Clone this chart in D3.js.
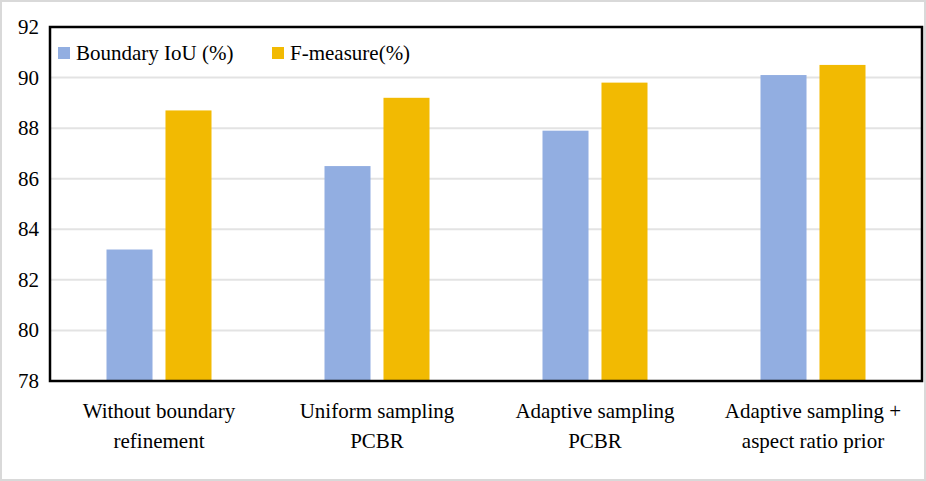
<!DOCTYPE html>
<html>
<head>
<meta charset="utf-8">
<script src="https://cdn.jsdelivr.net/npm/d3@7"></script>
<style>
body { margin: 0; background: #fff; }
</style>
</head>
<body>
<div id="chart"></div>
<script>
var categories = [
  ['Without boundary', 'refinement'],
  ['Uniform sampling', 'PCBR'],
  ['Adaptive sampling', 'PCBR'],
  ['Adaptive sampling +', 'aspect ratio prior']
]
var seriesNames = ['Boundary IoU (%)', 'F-measure(%)']
var boundaryIoU = [83.2, 86.5, 87.9, 90.1]
var fMeasure = [88.7, 89.2, 89.8, 90.5]
var yTicks = [78, 80, 82, 84, 86, 88, 90, 92]
var colors = ['#92aee1', '#f2ba02']

function drawChart() {
  var width = 926, height = 481
  var pLeft = 50, pRight = 922, pTop = 27, pBottom = 381
  var font = '"Liberation Serif", "Times New Roman", serif'

  var svg = d3.select('#chart').append('svg')
    .attr('width', width).attr('height', height)
    .style('font-family', font)

  svg.append('rect')
    .attr('x', 1).attr('y', 1).attr('width', width - 2).attr('height', height - 2)
    .style('fill', '#fff').style('stroke', '#d9d9d9').style('stroke-width', 2)

  var x = d3.scaleBand().domain(d3.range(categories.length)).range([pLeft, pRight])
  var x1 = d3.scaleBand().domain([0, 1]).range([0, 105]).paddingInner(0.22)
  var y = d3.scaleLinear().domain([78, 92]).range([pBottom, pTop])

  svg.append('g')
    .selectAll('line')
    .data(yTicks)
    .enter()
    .append('line')
    .attr('x1', pLeft).attr('x2', pRight)
    .attr('y1', d => y(d)).attr('y2', d => y(d))
    .style('stroke', '#e3e3e3').style('stroke-width', 2)

  svg.append('g')
    .selectAll('text')
    .data(yTicks)
    .enter()
    .append('text')
    .attr('x', 39).attr('y', d => y(d) + 7)
    .attr('text-anchor', 'end')
    .style('font-size', '21px')
    .text(d => d)

  var series = [boundaryIoU, fMeasure]
  series.forEach(function (vals, si) {
    svg.append('g')
      .selectAll('rect')
      .data(vals)
      .enter()
      .append('rect')
      .attr('x', (d, i) => x(i) + (x.bandwidth() - 105) / 2 + x1(si))
      .attr('width', x1.bandwidth())
      .attr('y', d => y(d))
      .attr('height', d => pBottom - y(d))
      .style('fill', colors[si])
  })

  svg.append('rect')
    .attr('x', pLeft).attr('y', pTop).attr('width', pRight - pLeft).attr('height', pBottom - pTop)
    .style('fill', 'none').style('stroke', '#000').style('stroke-width', 2.5)

  var catLabels = svg.append('g')
    .selectAll('text')
    .data(categories)
    .enter()
    .append('text')
    .attr('text-anchor', 'middle')
    .style('font-size', '21px')
  catLabels.append('tspan')
    .attr('x', (d, i) => x(i) + x.bandwidth() / 2).attr('y', 418)
    .text(d => d[0])
  catLabels.append('tspan')
    .attr('x', (d, i) => x(i) + x.bandwidth() / 2).attr('y', 448)
    .text(d => d[1])

  var legendX = [58, 272]
  seriesNames.forEach(function (name, i) {
    svg.append('rect')
      .attr('x', legendX[i]).attr('y', 47).attr('width', 12).attr('height', 12)
      .style('fill', colors[i])
    svg.append('text')
      .attr('x', legendX[i] + 18).attr('y', 60)
      .style('font-size', '21px')
      .text(name)
  })
}

drawChart()
</script>
</body>
</html>
